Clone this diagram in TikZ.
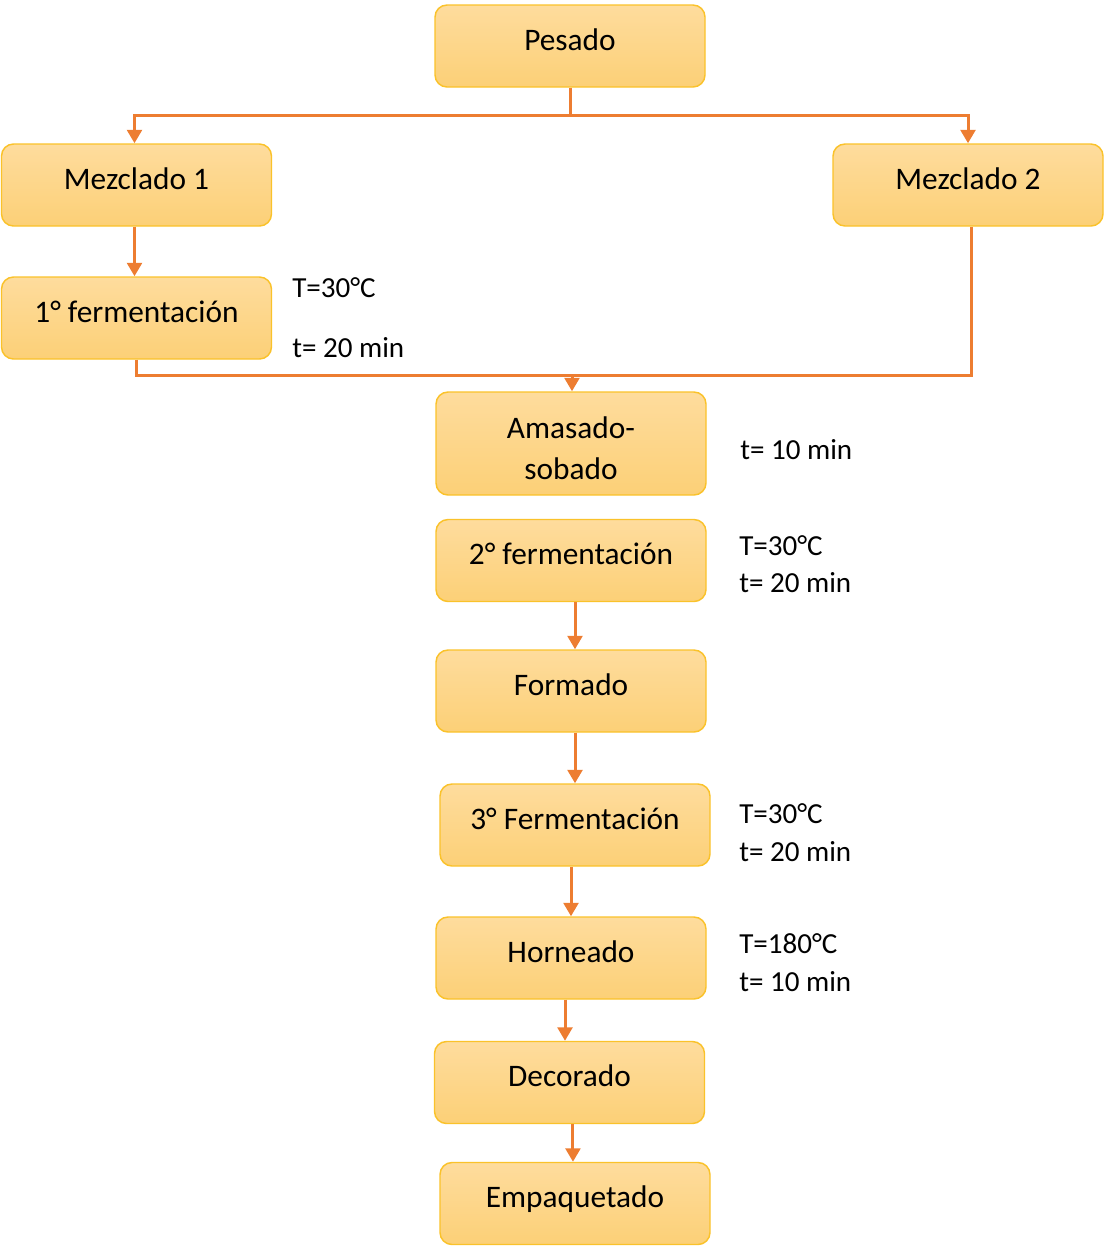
\documentclass[tikz,border=0pt]{standalone}
\usepackage{fontspec}
\setmainfont{Carlito}
\usetikzlibrary{arrows.meta}
\definecolor{arrcol}{HTML}{ED7D31}
\definecolor{boxtop}{HTML}{FEDC9D}
\definecolor{boxbot}{HTML}{FCD077}
\definecolor{boxline}{HTML}{FAC22A}
\tikzset{
  box/.style={draw=boxline, line width=1.1pt, top color=boxtop, bottom color=boxbot,
    rounded corners=9pt, minimum width=202.5pt, minimum height=61.5pt,
    align=center, inner sep=0pt, text height=15pt, text depth=9pt,
    font=\fontsize{23.5}{30.75}\selectfont},
  boxtext/.style={align=center, inner sep=0pt, font=\fontsize{23.5}{30.75}\selectfont},
  lbl/.style={anchor=base west, inner sep=0pt, font=\fontsize{21.8}{26}\selectfont},
  conn/.style={draw=arrcol, line width=2.25pt},
  arr/.style={conn, -{Triangle[width=11pt,length=10pt]}}
}
\begin{document}
\begin{tikzpicture}[x=0.75pt,y=-0.75pt]
\useasboundingbox (0,0) rectangle (1105,1247);
% boxes
\node[box] (pes) at (570,46) {Pesado};
\node[box] (m1) at (136.5,185) {Mezclado 1};
\node[box] (m2) at (968,185) {Mezclado 2};
\node[box] (f1) at (136.5,318) {1° fermentación};
\node[box, minimum height=77.25pt] (am) at (571,443.5) {};
\node[boxtext] (amt) at (571,448.5) {Amasado-\\sobado};
\node[box] (f2) at (571,560.5) {2° fermentación};
\node[box] (fo) at (571,691) {Formado};
\node[box] (f3) at (575,825) {3° Fermentación};
\node[box] (ho) at (571,958) {Horneado};
\node[box] (de) at (569.5,1082.5) {Decorado};
\node[box] (em) at (575,1203.5) {Empaquetado};
% labels
\node[lbl] (l1) at (292,297) {T=30°C};
\node[lbl] (l2) at (292,357) {t= 20 min};
\node[lbl] (l3) at (740,459) {t= 10 min};
\node[lbl] (l4) at (739,555) {T=30°C};
\node[lbl] (l5) at (739,592) {t= 20 min};
\node[lbl] (l6) at (739,823) {T=30°C};
\node[lbl] (l7) at (739,861) {t= 20 min};
\node[lbl] (l8) at (739,953) {T=180°C};
\node[lbl] (l9) at (739,991) {t= 10 min};
% connectors
\coordinate (j1) at (570,115);
\draw[conn] (pes.south) -- (j1);
\draw[arr] (j1) -| ([xshift=-1.5pt]m1.north);
\draw[arr] (j1) -| (m2.north);
\draw[arr] ([xshift=-1.5pt]m1.south) -- ([xshift=-1.5pt]f1.north);
\coordinate (j2) at (572,375.5);
\draw[conn] ([xshift=2.25pt]m2.south) |- (j2);
\draw[arr] (f1.south) |- (j2) -- (j2 |- am.north);
\draw[arr] ([xshift=3pt]f2.south) -- ([xshift=3pt]f2.south |- fo.north);
\draw[arr] ([xshift=3pt]fo.south) -- ([xshift=3pt]fo.south |- f3.north);
\draw[arr] ([xshift=-3pt]f3.south) -- ([xshift=-3pt]f3.south |- ho.north);
\draw[arr] ([xshift=-4.5pt]ho.south) -- ([xshift=-4.5pt]ho.south |- de.north);
\draw[arr] ([xshift=2.6pt]de.south) -- ([xshift=2.6pt]de.south |- em.north);
\end{tikzpicture}
\end{document}
